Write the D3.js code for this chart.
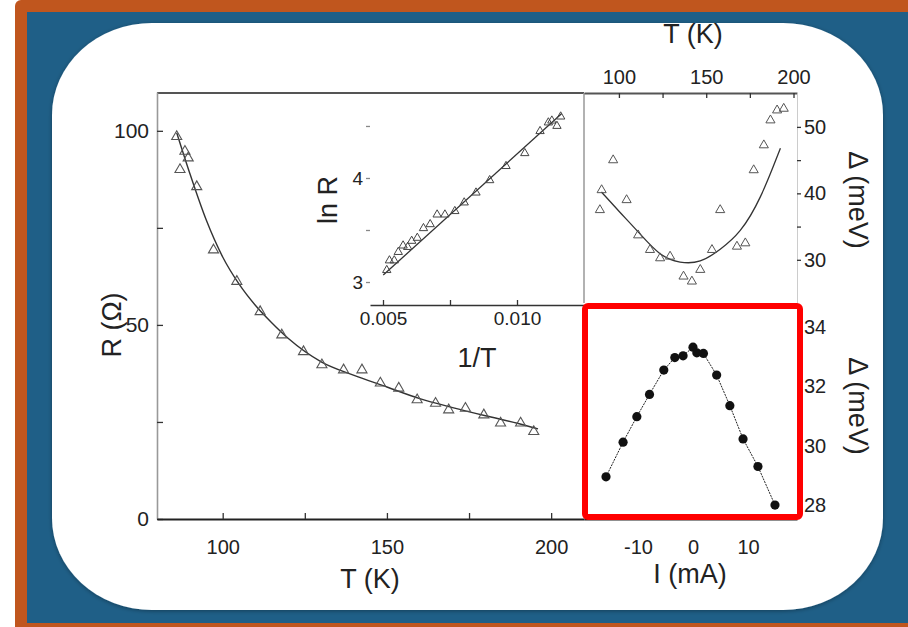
<!DOCTYPE html>
<html><head><meta charset="utf-8">
<script src="https://cdn.jsdelivr.net/npm/d3@7"></script>
<style>
html,body{margin:0;padding:0;background:#fff;}
svg{display:block;font-family:"Liberation Sans",Arial,sans-serif;}
</style></head>
<body>
<script>
// ---------- data ----------
// Main panel: R (Ohm) vs T (K), open triangles
const mainT = [86.0, 88.5, 89.5, 87.0, 92.1, 97.2, 104.3, 111.4, 118.0, 124.6, 130.2, 136.8, 142.4, 148.0, 153.6, 159.2, 164.8, 168.8, 173.9, 179.5, 184.6, 190.7, 194.7];
const mainR = [98.5, 94.7, 93.0, 90.0, 85.6, 69.3, 61.2, 53.4, 47.4, 43.1, 39.7, 38.4, 38.4, 35.0, 33.7, 30.7, 29.8, 28.1, 28.5, 26.8, 24.7, 24.7, 22.5];
// Main panel fit line
const mainFitT = [86, 90, 95, 100, 105, 110, 115, 120, 130, 140, 150, 160, 170, 180, 190, 196];
const mainFitR = [99.5, 89, 77, 67.5, 60.5, 55, 50.5, 46.5, 40.5, 37, 34, 31, 28.7, 26.6, 24.6, 23.2];
// Inset: ln R vs 1/T
const insetInvT = [0.01163, 0.01130, 0.01117, 0.01149, 0.01086, 0.01029, 0.00959, 0.00898, 0.00847, 0.00803, 0.00768, 0.00731, 0.00702, 0.00676, 0.00651, 0.00628, 0.00607, 0.00592, 0.00575, 0.00557, 0.00542, 0.00524, 0.00514];
const insetLnR  = [4.590, 4.551, 4.533, 4.500, 4.450, 4.238, 4.114, 3.978, 3.859, 3.764, 3.681, 3.648, 3.648, 3.555, 3.517, 3.424, 3.395, 3.336, 3.350, 3.288, 3.207, 3.207, 3.114];
const insetFitInvT = [0.00501, 0.01167];
const insetFitLnR  = [3.067, 4.62];
// Top-right panel: gap Delta (meV) vs T (K)
const gapT = [90.1, 89.1, 96.7, 104.4, 111.0, 117.8, 123.6, 129.3, 137.0, 141.8, 146.6, 153.3, 158.0, 167.6, 172.4, 177.2, 183.0, 186.8, 190.6, 194.4];
const gapD = [40.5, 37.5, 45.0, 39.0, 33.7, 31.5, 30.25, 30.5, 27.5, 26.75, 28.5, 31.5, 37.5, 32.0, 32.5, 43.5, 47.25, 51.0, 52.5, 52.75];
const gapFitT = [90, 100, 111, 123.6, 135, 146.6, 158, 169.5, 181, 192.5];
const gapFitD = [40.2, 37.3, 34.25, 30.5, 29.5, 29.5, 31.5, 34.0, 39.0, 46.8];
// Bottom-right panel: Delta (meV) vs I (mA)
const curI = [-15.8, -12.7, -10.2, -7.9, -5.3, -3.3, -1.8, 0.0, 0.7, 1.9, 4.3, 6.7, 9.1, 11.8, 14.9];
const curD = [28.95, 30.12, 30.98, 31.73, 32.55, 32.97, 33.03, 33.32, 33.13, 33.11, 32.38, 31.35, 30.23, 29.3, 28.0];
// tick labels
const mainYTicks = [0, 25, 50, 75, 100];
const mainXTicks = [100, 125, 150, 175, 200];
const insetXTicks = [0.005, 0.0075, 0.010];
const insetYTicks = [3, 3.5, 4, 4.5];
const gapXTicks = [100, 125, 150, 175, 200];
const gapYTicks = [30, 35, 40, 45, 50];
const curXTicks = [-10, 0, 10];
const curYTicks = [28, 29, 30, 31, 32, 33, 34];

// ---------- drawing ----------
const W = 908, H = 627;
const svg = d3.select("body").append("svg").attr("width", W).attr("height", H);
const defs = svg.append("defs");
const f = defs.append("filter").attr("id", "sh").attr("x", "-5%").attr("y", "-5%").attr("width", "110%").attr("height", "110%");
f.append("feDropShadow").attr("dx", 0).attr("dy", 1).attr("stdDeviation", 2).attr("flood-color", "#000").attr("flood-opacity", 0.35);

// frame
svg.append("rect").attr("x", 15).attr("y", 0).attr("width", W - 15 + 10).attr("height", H + 10).attr("rx", 6).attr("fill", "#c0561e");
svg.append("rect").attr("x", 27).attr("y", 12).attr("width", W - 27).attr("height", 611).attr("fill", "#1f5f87");
svg.append("rect").attr("x", 52).attr("y", 23).attr("width", 831).attr("height", 587).attr("rx", 100).attr("ry", 92).attr("fill", "#fff").attr("filter", "url(#sh)");

const g = svg.append("g");

function styleAxis(sel, col, w, fs) {
  sel.select(".domain").attr("stroke", col).attr("stroke-width", w);
  sel.selectAll(".tick line").attr("stroke", "#333").attr("stroke-width", 1.3);
  sel.selectAll(".tick text").attr("fill", "#222").style("font-size", fs + "px").style("font-family", "Liberation Sans, Arial, sans-serif");
}

// ---- main panel ----
const x = d3.scaleLinear().domain([80, 210]).range([157, 584]);
const y = d3.scaleLinear().domain([0, 110]).range([519, 92]);
// top border
g.append("line").attr("x1", 157).attr("x2", 584).attr("y1", 93).attr("y2", 93).attr("stroke", "#555").attr("stroke-width", 2);
const yAx = g.append("g").attr("transform", "translate(157,0)")
  .call(d3.axisLeft(y).tickValues(mainYTicks).tickSizeInner(-6).tickSizeOuter(0).tickPadding(8).tickFormat(d => d % 50 === 0 ? d : ""));
styleAxis(yAx, "#999", 1.6, 21);
const xAx = g.append("g").attr("transform", "translate(0,519)")
  .call(d3.axisBottom(x).tickValues(mainXTicks).tickSizeInner(-6).tickSizeOuter(0).tickPadding(13).tickFormat(d => d % 50 === 0 ? d : ""));
styleAxis(xAx, "#222", 2, 20);
xAx.selectAll(".tick text").attr("transform", "translate(0,8)");

const line = (xs, ys, sx, sy, curve) => d3.line().x(d => sx(d[0])).y(d => sy(d[1])).curve(curve || d3.curveLinear)(xs.map((v, i) => [v, ys[i]]));
g.append("path").attr("d", line(mainFitT, mainFitR, x, y, d3.curveMonotoneX)).attr("fill", "none").attr("stroke", "#333").attr("stroke-width", 1.4);
const tri = d3.symbol().type(d3.symbolTriangle);
g.selectAll(".mt").data(mainT.map((t, i) => [t, mainR[i]])).join("path")
  .attr("d", tri.size(44)()).attr("transform", d => `translate(${x(d[0])},${y(d[1])})`)
  .attr("fill", "none").attr("stroke", "#555").attr("stroke-width", 1.1);
g.append("text").attr("transform", "translate(121,325) rotate(-90)").attr("text-anchor", "middle").style("font-size", "27px").attr("fill", "#222").text("R (Ω)");
g.append("text").attr("x", 370).attr("y", 588).attr("text-anchor", "middle").style("font-size", "27px").attr("fill", "#222").text("T (K)");

// ---- inset ----
const xi = d3.scaleLinear().domain([0.004515, 0.0125]).range([370, 584]);
const yi = d3.scaleLinear().domain([2.779, 4.817]).range([305, 93]);
const xiAx = g.append("g").attr("transform", "translate(0,305)")
  .call(d3.axisBottom(xi).tickValues(insetXTicks).tickSizeInner(-5).tickSizeOuter(0).tickPadding(7).tickFormat(d => (Math.abs(d - 0.0075) < 1e-6) ? "" : d3.format(".3f")(d)));
styleAxis(xiAx, "#333", 1.6, 19);
const yiAx = g.append("g").attr("transform", "translate(370,0)")
  .call(d3.axisLeft(yi).tickValues(insetYTicks).tickSizeInner(4).tickSizeOuter(0).tickPadding(3).tickFormat(d => Number.isInteger(d) ? d : ""));
styleAxis(yiAx, "none", 0, 19);
yiAx.selectAll(".tick line").attr("stroke", "#888");
g.append("path").attr("d", line(insetFitInvT, insetFitLnR, xi, yi)).attr("fill", "none").attr("stroke", "#333").attr("stroke-width", 1.3);
g.selectAll(".it").data(insetInvT.map((t, i) => [t, insetLnR[i]])).join("path")
  .attr("d", tri.size(30)()).attr("transform", d => `translate(${xi(d[0])},${yi(d[1])})`)
  .attr("fill", "none").attr("stroke", "#444").attr("stroke-width", 1);
g.append("text").attr("transform", "translate(337,200) rotate(-90)").attr("text-anchor", "middle").style("font-size", "27px").attr("fill", "#222").text("ln R");
g.append("text").attr("x", 477).attr("y", 367).attr("text-anchor", "middle").style("font-size", "27px").attr("fill", "#222").text("1/T");

// ---- top-right panel ----
const xg = d3.scaleLinear().domain([80, 202]).range([584, 797]);
const yg = d3.scaleLinear().domain([23.5, 55.1]).range([303, 93]);
g.append("line").attr("x1", 584).attr("x2", 584).attr("y1", 93).attr("y2", 303).attr("stroke", "#999").attr("stroke-width", 1.5);
const xgAx = g.append("g").attr("transform", "translate(0,93)")
  .call(d3.axisTop(xg).tickValues(gapXTicks).tickSizeInner(-5).tickSizeOuter(0).tickPadding(9).tickFormat(d => d % 50 === 0 ? d : ""));
styleAxis(xgAx, "#555", 2, 20);
const ygAx = g.append("g").attr("transform", "translate(797,0)")
  .call(d3.axisRight(yg).tickValues(gapYTicks).tickSizeInner(4).tickSizeOuter(0).tickPadding(3).tickFormat(d => d % 10 === 0 ? d : ""));
styleAxis(ygAx, "#ccc", 1, 20);
g.append("path").attr("d", line(gapFitT, gapFitD, xg, yg, d3.curveBasis)).attr("fill", "none").attr("stroke", "#333").attr("stroke-width", 1.3);
g.selectAll(".gt").data(gapT.map((t, i) => [t, gapD[i]])).join("path")
  .attr("d", tri.size(36)()).attr("transform", d => `translate(${xg(d[0])},${yg(d[1])})`)
  .attr("fill", "none").attr("stroke", "#555").attr("stroke-width", 1);
g.append("text").attr("x", 693).attr("y", 43).attr("text-anchor", "middle").style("font-size", "27px").attr("fill", "#222").text("T (K)");
g.append("text").attr("transform", "translate(849,200) rotate(90)").attr("text-anchor", "middle").style("font-size", "27px").attr("fill", "#222").text("Δ (meV)");

// ---- bottom-right panel ----
const xc = d3.scaleLinear().domain([-19.8, 18.9]).range([584, 797]);
const yc = d3.scaleLinear().domain([27.53, 34.81]).range([519, 303]);
const xcAx = g.append("g").attr("transform", "translate(0,519)")
  .call(d3.axisBottom(xc).tickValues(curXTicks).tickSizeInner(-5).tickSizeOuter(0).tickPadding(13).tickFormat(d => d));
styleAxis(xcAx, "#222", 2, 20);
xcAx.selectAll(".tick text").attr("transform", "translate(0,8)");
const ycAx = g.append("g").attr("transform", "translate(797,0)")
  .call(d3.axisRight(yc).tickValues(curYTicks).tickSizeInner(4).tickSizeOuter(0).tickPadding(3).tickFormat(d => d % 2 === 0 ? d : ""));
styleAxis(ycAx, "#ccc", 1, 20);
g.append("path").attr("d", line(curI, curD, xc, yc)).attr("fill", "none").attr("stroke", "#222").attr("stroke-width", 1).attr("stroke-dasharray", "2,1");
g.selectAll(".ct").data(curI.map((t, i) => [t, curD[i]])).join("circle")
  .attr("cx", d => xc(d[0])).attr("cy", d => yc(d[1])).attr("r", 4.6).attr("fill", "#111");
g.append("text").attr("x", 690).attr("y", 583).attr("text-anchor", "middle").style("font-size", "27px").attr("fill", "#222").text("I (mA)");
g.append("text").attr("transform", "translate(849,406) rotate(90)").attr("text-anchor", "middle").style("font-size", "27px").attr("fill", "#222").text("Δ (meV)");

// red highlight box
g.append("rect").attr("x", 585).attr("y", 306).attr("width", 215).attr("height", 211).attr("rx", 3)
  .attr("fill", "none").attr("stroke", "#f00").attr("stroke-width", 6);
</script>
</body></html>
